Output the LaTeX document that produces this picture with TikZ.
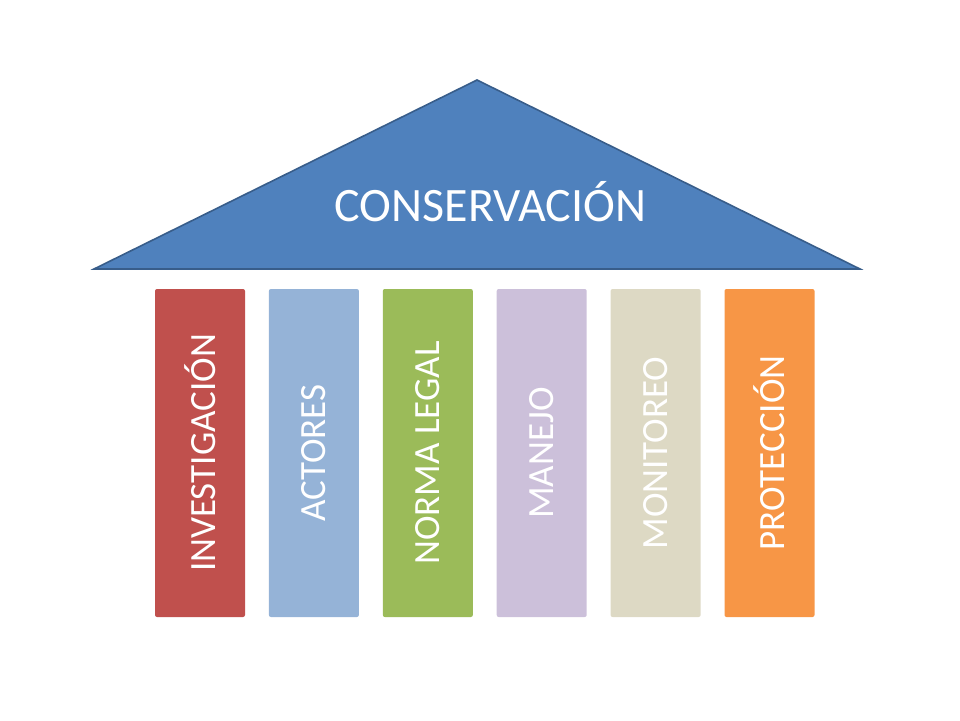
\documentclass[tikz,border=0pt]{standalone}
\usepackage{fontspec}
\setmainfont{Carlito}
\usepackage{tikz}
\usetikzlibrary{positioning}
\definecolor{roofblue}{RGB}{79,129,189}
\definecolor{roofline}{RGB}{56,93,138}
\definecolor{pillarred}{RGB}{192,80,77}
\definecolor{pillarblue}{RGB}{149,179,215}
\definecolor{pillargreen}{RGB}{155,187,89}
\definecolor{pillarpurple}{RGB}{204,192,218}
\definecolor{pillarbeige}{RGB}{221,217,196}
\definecolor{pillarorange}{RGB}{247,150,70}

\begin{document}
\begin{tikzpicture}[
    x=1pt, y=-1pt,
    pillar/.style={rectangle, minimum width=90pt, minimum height=328pt, rounded corners=2pt, inner sep=0pt},
    pillartext/.style={rotate=90, text=white, font=\fontsize{37}{41}\selectfont},
    roof/.style={fill=roofblue, draw=roofline, line width=1.6pt, line join=miter}
]
\useasboundingbox (0,0) rectangle (960,720);

% roof
\coordinate (top) at (477,80);
\coordinate (left) at (94,269);
\coordinate (right) at (860,269);
\draw[roof] (left) -- (top) -- (right) -- cycle;
\node[text=white, anchor=base, inner sep=0pt, font=\fontsize{48}{52}\selectfont] (title) at (490.5,221) {CONSERVACIÓN};

% pillars
\node[pillar, fill=pillarred] (p1) at (200,453) {};
\node[pillar, fill=pillarblue, right=23.5pt of p1] (p2) {};
\node[pillar, fill=pillargreen, right=23.5pt of p2] (p3) {};
\node[pillar, fill=pillarpurple, right=23.5pt of p3] (p4) {};
\node[pillar, fill=pillarbeige, right=23.5pt of p4] (p5) {};
\node[pillar, fill=pillarorange, right=23.5pt of p5] (p6) {};

\node[pillartext] at (p1) {INVESTIGACIÓN};
\node[pillartext] at (p2) {ACTORES};
\node[pillartext] at (p3) {NORMA LEGAL};
\node[pillartext] at (p4) {MANEJO};
\node[pillartext] at (p5) {MONITOREO};
\node[pillartext] at (p6) {PROTECCIÓN};

\end{tikzpicture}
\end{document}
